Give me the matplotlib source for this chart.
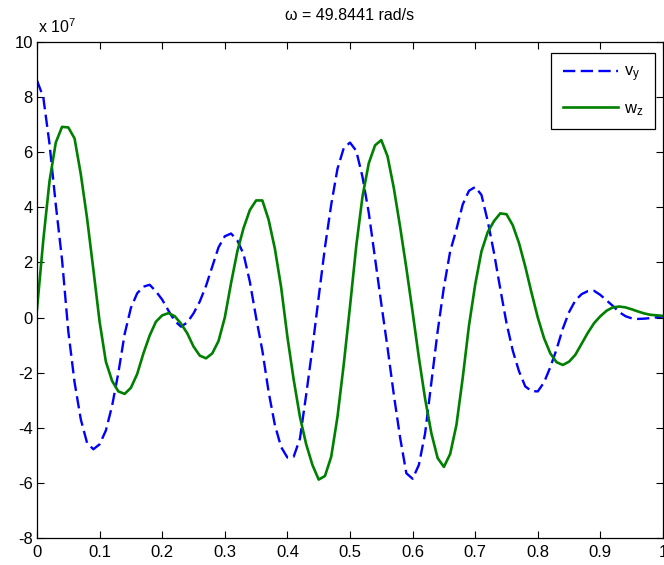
import numpy as np
import matplotlib
matplotlib.use("Agg")
import matplotlib.pyplot as plt

plt.rcParams["font.family"] = ["Liberation Sans", "DejaVu Sans"]
plt.rcParams["mathtext.fontset"] = "custom"
plt.rcParams["mathtext.rm"] = "Liberation Sans"

# time base (s) and responses (units of 1e7)
t = np.linspace(0.0, 1.0, 101)

v_y = [8.6, 8.0, 6.3, 4.1, 2.1, -0.5, -2.35, -3.7, -4.55, -4.78,
       -4.6, -4.1, -3.2, -2.0, -0.6, 0.35, 0.88, 1.12, 1.19, 0.95,
       0.65, 0.25, -0.12, -0.33, -0.18, 0.15, 0.58, 1.15, 1.85, 2.55,
       2.95, 3.05, 2.8, 2.3, 1.3, 0.0, -1.2, -2.7, -3.9, -4.7,
       -5.08, -5.05, -4.4, -2.8, -1.1, 0.75, 2.55, 4.1, 5.4, 6.15,
       6.35, 6.05, 5.1, 3.8, 2.15, 0.5, -1.1, -2.8, -4.35, -5.65,
       -5.85, -5.35, -4.2, -2.35, -0.5, 1.1, 2.4, 3.2, 4.1, 4.6,
       4.74, 4.45, 3.5, 2.35, 1.05, -0.2, -1.2, -1.95, -2.5, -2.67,
       -2.68, -2.35, -1.8, -1.15, -0.4, 0.2, 0.62, 0.85, 0.96, 0.97,
       0.82, 0.62, 0.42, 0.2, 0.05, -0.03, -0.05, -0.04, -0.02, 0.01, 0.04]

w_z = [0.3, 2.8, 4.95, 6.35, 6.92, 6.9, 6.5, 5.2, 3.6, 1.75,
       -0.15, -1.6, -2.3, -2.68, -2.77, -2.55, -2.05, -1.3, -0.65, -0.15,
       0.08, 0.16, 0.05, -0.22, -0.57, -1.05, -1.38, -1.48, -1.3, -0.85,
       0.0, 1.25, 2.4, 3.25, 3.9, 4.25, 4.25, 3.55, 2.5, 1.1,
       -0.7, -2.25, -3.6, -4.6, -5.35, -5.88, -5.75, -5.05, -3.6, -1.7,
       0.4, 2.6, 4.4, 5.6, 6.25, 6.44, 5.85, 4.7, 3.3, 1.8,
       0.2, -1.45, -2.95, -4.2, -5.1, -5.42, -4.95, -3.9, -2.2, -0.3,
       1.2, 2.4, 3.1, 3.5, 3.78, 3.75, 3.35, 2.7, 1.85, 0.9,
       0.0, -0.75, -1.3, -1.62, -1.72, -1.6, -1.35, -0.95, -0.55, -0.2,
       0.05, 0.25, 0.37, 0.4, 0.37, 0.3, 0.22, 0.15, 0.1, 0.08, 0.06]

x_ticks = [0, 0.1, 0.2, 0.3, 0.4, 0.5, 0.6, 0.7, 0.8, 0.9, 1]
x_labels = ["0", "0.1", "0.2", "0.3", "0.4", "0.5", "0.6", "0.7", "0.8", "0.9", "1"]
y_ticks = [-8, -6, -4, -2, 0, 2, 4, 6, 8, 10]
y_labels = ["-8", "-6", "-4", "-2", "0", "2", "4", "6", "8", "10"]

omega = 49.8441

W, H = 664, 565
fig = plt.figure(figsize=(W / 100, H / 100), dpi=100)
ax = fig.add_axes([37 / W, 27 / H, 626 / W, 496 / H])

ax.plot(t, v_y, color=(0, 0, 1), lw=1.7, dashes=(5.2, 2.3), label=r"$\mathregular{v_y}$")
ax.plot(t, w_z, color=(0, 0.5, 0), lw=1.9, label=r"$\mathregular{w_z}$")

ax.set_xlim(0, 1)
ax.set_ylim(-8, 10)
ax.set_xticks(x_ticks)
ax.set_xticklabels(x_labels)
ax.set_yticks(y_ticks)
ax.set_yticklabels(y_labels)
ax.tick_params(direction="in", top=True, right=True, length=5, width=0.8,
               labelsize=12, pad=3)
ax.tick_params(axis="x", pad=5)
for s in ax.spines.values():
    s.set_linewidth(0.9)
    s.set_color("black")

leg = ax.legend(loc="upper right", bbox_to_anchor=(655 / W, 1 - 53 / H),
                bbox_transform=fig.transFigure, fontsize=12, frameon=True,
                fancybox=False, framealpha=1, edgecolor="black",
                handlelength=3.3, handletextpad=0.35, borderpad=0.7,
                labelspacing=1.0, borderaxespad=0)
leg.get_frame().set_linewidth(0.9)

fig.text(38 / W, 1 - 27 / H, r"x $\mathregular{10^{7}}$", fontsize=11.5,
         ha="left", va="center")
fig.text(350 / W, 1 - 15 / H, f"\u03c9 = {omega} rad/s", fontsize=11.5,
         ha="center", va="center")

fig.savefig("out.png", dpi=100)
